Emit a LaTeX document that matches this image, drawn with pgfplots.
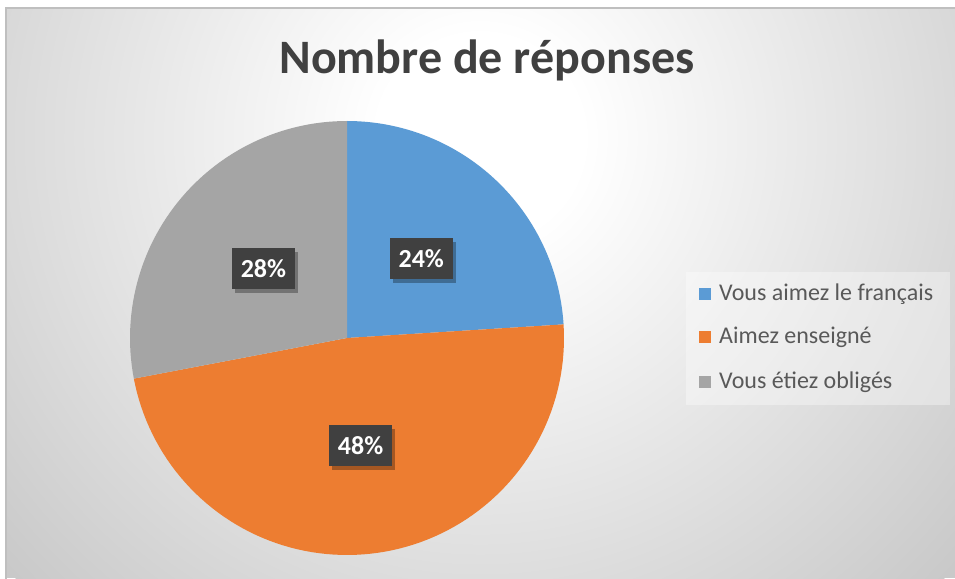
\documentclass[border=0pt]{standalone}
\usepackage{pgfplots}
\pgfplotsset{compat=1.18}
\usepackage{fontspec}
\setmainfont{Carlito}
\usetikzlibrary{shadows}
\definecolor{cblue}{HTML}{5B9BD5}
\definecolor{corange}{HTML}{ED7D31}
\definecolor{cgray}{HTML}{A5A5A5}
\definecolor{bgedge}{HTML}{C9C9C9}
\definecolor{titlec}{HTML}{404040}
\definecolor{legc}{HTML}{595959}
\definecolor{lblbox}{HTML}{404040}
\pgfdeclareradialshading{bgshade}{\pgfpoint{0bp}{0bp}}{color(0bp)=(white); color(4bp)=(white); color(25bp)=(bgedge); color(50bp)=(bgedge)}
% data (percent)
\def\va{24}\def\vb{48}\def\vc{28}
\pgfmathsetmacro{\Aa}{90}
\pgfmathsetmacro{\Ab}{90-3.6*\va}
\pgfmathsetmacro{\Ac}{\Ab-3.6*\vb}
\pgfmathsetmacro{\Ad}{\Ac-3.6*\vc}
\pgfmathsetmacro{\Ma}{(\Aa+\Ab)/2}
\pgfmathsetmacro{\Mb}{(\Ab+\Ac)/2}
\pgfmathsetmacro{\Mc}{(\Ac+\Ad)/2}
\begin{document}
\begin{tikzpicture}[x=1pt,y=1pt]
\useasboundingbox (0,0) rectangle (955,578);
\begin{scope}
\clip (6,0) rectangle (955,570);
\fill[bgedge] (6,0) rectangle (955,570);
\shade[shading=bgshade] (480,440) circle (640);
\end{scope}
\draw[black!25, line width=1.5pt] (6,-5) -- (6,570) -- (960,570);
\node[font=\fontsize{48}{56}\selectfont\bfseries, text=titlec] at (487,518) {Nombre de réponses};
\begin{axis}[at={(347pt,240pt)}, anchor=center, width=434pt, height=434pt,
  scale only axis, xmin=-1, xmax=1, ymin=-1, ymax=1, hide axis, clip=false]
\addplot[draw=none, fill=cblue, domain=\Ab:\Aa, samples=60] ({cos(x)},{sin(x)}) -- (axis cs:0,0) -- cycle;
\addplot[draw=none, fill=corange, domain=\Ac:\Ab, samples=90] ({cos(x)},{sin(x)}) -- (axis cs:0,0) -- cycle;
\addplot[draw=none, fill=cgray, domain=\Ad:\Ac, samples=60] ({cos(x)},{sin(x)}) -- (axis cs:0,0) -- cycle;
\tikzset{lbl/.style={fill=lblbox, text=white, font=\fontsize{26}{30}\selectfont\bfseries,
  minimum width=63pt, minimum height=41pt, inner sep=0pt,
  drop shadow={shadow xshift=3pt, shadow yshift=-4pt, opacity=0.3, fill=black}}}
\node[lbl] at (axis cs:{0.5*cos(\Ma)},{0.5*sin(\Ma)}) {\va\%};
\node[lbl] at (axis cs:{0.5*cos(\Mb)},{0.5*sin(\Mb)}) {\vb\%};
\node[lbl] at (axis cs:{0.5*cos(\Mc)},{0.5*sin(\Mc)}) {\vc\%};
\end{axis}
% legend
\fill[white, opacity=0.35] (686,173) rectangle (950,306);
\begin{scope}[every node/.style={anchor=west, text=legc, font=\fontsize{24}{28}\selectfont, inner sep=0pt}]
\fill[cblue] (699,278) rectangle (711,290);
\node at (719,284) {Vous aimez le français};
\fill[corange] (699,235) rectangle (711,247);
\node at (719,241) {Aimez enseigné};
\fill[cgray] (699,190) rectangle (711,202);
\node at (719,196) {Vous étiez obligés};
\end{scope}
\end{tikzpicture}
\end{document}
